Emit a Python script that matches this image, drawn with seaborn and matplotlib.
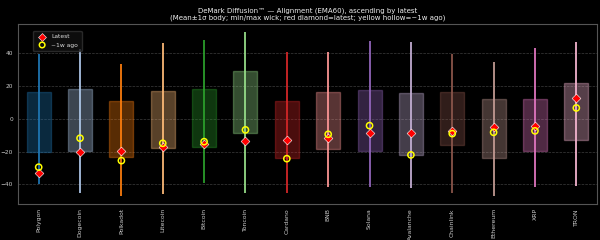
import matplotlib
matplotlib.use("Agg")
import matplotlib.pyplot as plt
import seaborn as sns
import pandas as pd
import numpy as np

coins = ["Polygon", "Dogecoin", "Polkadot", "Litecoin", "Bitcoin", "Toncoin", "Cardano",
         "BNB", "Solana", "Avalanche", "Chainlink", "Ethereum", "XRP", "TRON"]
body_hi = [16.3, 18.5, 10.8, 17.3, 18.3, 29.4, 10.8, 16.7, 17.5, 15.9, 16.7, 12.2, 12.2, 21.8]
body_lo = [-20.4, -19.8, -23.4, -17.5, -16.9, -8.8, -23.6, -18.1, -19.8, -22.0, -15.9, -23.6, -19.6, -12.6]
wick_hi = [39.7, 42.8, 33.6, 46.3, 48.3, 53.0, 40.8, 40.8, 47.7, 47.3, 39.5, 34.9, 43.4, 46.7]
wick_lo = [-39.8, -45.0, -47.0, -45.9, -39.3, -45.0, -45.0, -41.8, -41.8, -42.2, -45.5, -47.0, -41.4, -40.8]
latest = [-33.2, -20.0, -19.8, -17.3, -15.5, -13.2, -13.0, -11.8, -8.8, -8.4, -7.1, -5.1, -4.3, 12.8]
week_ago = [-29.5, -11.8, -25.5, -14.9, -13.9, -6.7, -24.3, -9.4, -4.1, -22.0, -9.0, -8.2, -7.3, 6.7]

df = pd.DataFrame({"coin": coins, "hi": body_hi, "lo": body_lo, "whi": wick_hi,
                   "wlo": wick_lo, "latest": latest, "week": week_ago})

plt.style.use("dark_background")
sns.set_style("dark", {"axes.facecolor": "black", "figure.facecolor": "black",
                       "axes.edgecolor": "#555555", "text.color": "#dddddd",
                       "xtick.color": "#cccccc", "ytick.color": "#cccccc",
                       "axes.labelcolor": "#dddddd"})
plt.rcParams['font.family'] = ['DejaVu Sans']

fig, ax = plt.subplots(figsize=(6, 2.4), dpi=100)
fig.patch.set_facecolor("black")
ax.set_facecolor("black")
colors = sns.color_palette("tab20", 20)[:len(coins)]
x = np.arange(len(coins))

ax.bar(x, df["hi"] - df["lo"], bottom=df["lo"], width=0.58, color=colors, alpha=0.35,
       edgecolor=colors, linewidth=1.0, zorder=2)
ax.vlines(x, df["wlo"], df["whi"], colors=colors, linewidth=1.4, alpha=0.9, zorder=3)

sns.scatterplot(x=x, y=df["latest"], ax=ax, marker="D", s=20, color="red",
                edgecolor="white", linewidth=0.4, zorder=5, label="Latest")
sns.scatterplot(x=x, y=df["week"], ax=ax, marker="o", s=20, facecolors="none",
                edgecolor="yellow", linewidth=1.1, zorder=6, label="~1w ago")

ax.set_xlim(-0.5, len(coins) - 0.5)
ax.set_ylim(-52, 58)
ax.set_yticks([-40, -20, 0, 20, 40])
ax.set_xticks(x)
ax.set_xticklabels(coins, rotation=90, fontsize=4.4)
ax.tick_params(axis="y", labelsize=4.2, length=2, color="#888888", pad=1.5)
ax.tick_params(axis="x", length=0, pad=3)
ax.grid(axis="y", linestyle="--", color="#666666", alpha=0.6, linewidth=0.5)
ax.grid(axis="x", visible=False)
ax.set_ylabel("")
for s in ax.spines.values():
    s.set_color("#555555")
    s.set_linewidth(0.8)

leg = ax.legend(loc="upper left", fontsize=4.3, frameon=True, facecolor="#111111",
                edgecolor="#333333", bbox_to_anchor=(0.02, 0.98), handletextpad=0.5,
                borderpad=0.6, labelspacing=0.5, markerscale=0.9)
for t in leg.get_texts():
    t.set_color("#dddddd")

ax.set_title("DeMark Diffusion™ — Alignment (EMA60), ascending by latest\n"
             "(Mean±1σ body; min/max wick; red diamond=latest; yellow hollow=~1w ago)",
             fontsize=5.0, color="#eeeeee", pad=3)
fig.subplots_adjust(left=0.03, right=0.995, top=0.9, bottom=0.15)
fig.savefig("out.png", dpi=100, facecolor="black")
